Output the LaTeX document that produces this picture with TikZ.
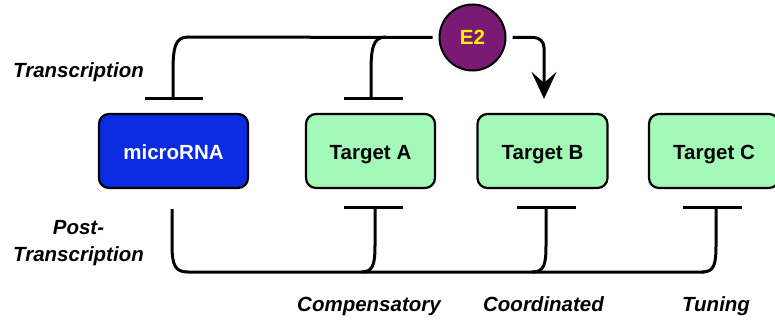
\documentclass[tikz,border=0pt]{standalone}
\usepackage{fontspec}
\setmainfont{Liberation Sans}
\usetikzlibrary{arrows.meta}
\definecolor{mirblue}{HTML}{0A2BE0}
\definecolor{tgreen}{HTML}{A3F9B8}
\definecolor{e2purple}{HTML}{7B1A75}
\begin{document}
\begin{tikzpicture}[x=1pt,y=-1pt, line width=3pt,
  box/.style={draw, line width=2.2pt, rounded corners=10pt, minimum height=74pt,
    font=\fontsize{20.5}{24}\selectfont\bfseries, inner sep=0pt, text height=17.7pt, text depth=0pt},
  target/.style={box, fill=tgreen, minimum width=130pt},
  lab/.style={font=\fontsize{20.5}{27}\selectfont\bfseries\itshape, align=center, inner sep=0pt},
  link/.style={line width=3pt}]
\useasboundingbox (0,0) rectangle (775,321);

% boxes
\node[box, fill=mirblue, text=white, minimum width=149pt] (mir) at (173.5,151) {microRNA};
\node[target, minimum width=129pt] (ta) at (370.5,151) {Target A};
\node[target] (tb) at (542.5,151) {Target B};
\node[target] (tc) at (714,151) {Target C};
\node[circle, draw, line width=2pt, fill=e2purple, text=yellow, minimum size=66pt,
  inner sep=0pt, outer sep=7pt, font=\fontsize{20.5}{24}\selectfont\bfseries] (e2) at (472.5,37.5) {E2};

% labels
\node[lab] (ltr) at (78.5,72.5) {Transcription};
\node[lab] (lpt) at (78.5,243) {Post-\\Transcription};
\node[lab] (lco) at (369,306.5) {Compensatory};
\node[lab] (lcd) at (543.5,304.4) {Coordinated};
\node[lab] (ltu) at (716,306.5) {Tuning};

% transcriptional repression bars
\coordinate (mT) at (173,98);
\coordinate (aT) at (371,98);
\draw[link] (145,98) -- (203,98);
\draw[link] (344,98) -- (403,98);
\draw[link] (mT) -- (173,72) .. controls (173,48) and (175,37) .. (188,37) -- (e2.west);
\draw[link] (aT) -- (371,72) .. controls (371,48) and (373,37) .. (386,37);

% E2 activation arrow
\draw[link, -{Stealth[length=27pt,width=25pt,inset=11pt]}, rounded corners=10pt, shorten >=14pt]
  (e2.east) -| ([xshift=1.5pt]tb.north);

% post-transcriptional repression bars
\coordinate (mB) at (172,209);
\coordinate (aB) at (375,207);
\coordinate (bB) at (546,207);
\coordinate (cB) at (716,207);
\draw[link] (344,207) -- (403,207);
\draw[link] (517,207) -- (576,207);
\draw[link] (683,207) -- (742,207);
\draw[link] (mB) -- (172,245) .. controls (172,265) and (175,272) .. (188,272) -- (704,272);
\draw[link] (aB) -- (375,245) .. controls (375,265) and (373,272) .. (361,272);
\draw[link] (bB) -- (546,245) .. controls (546,265) and (544,272) .. (532,272);
\draw[link] (cB) -- (716,245) .. controls (716,265) and (714,272) .. (702,272);
\end{tikzpicture}
\end{document}
